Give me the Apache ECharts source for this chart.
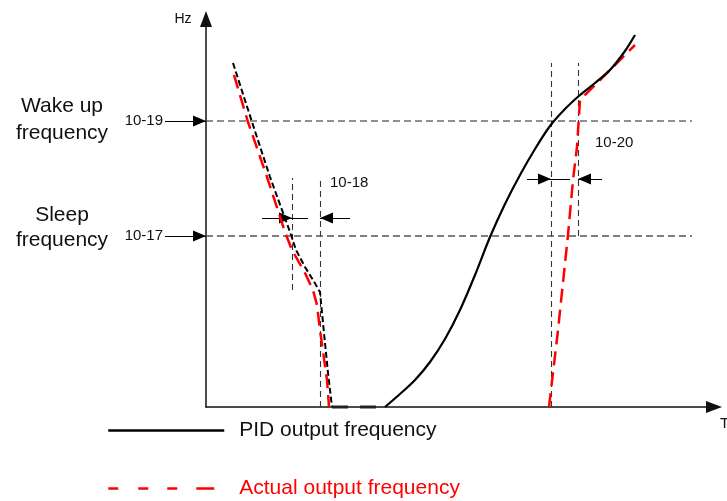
<!DOCTYPE html>
<html><head><meta charset="utf-8">
<script src="https://cdn.jsdelivr.net/npm/echarts@6/dist/echarts.min.js"></script>
<style>html,body{margin:0;padding:0;background:#fff}#c{width:727px;height:501px}</style>
</head><body><div id="c"></div>
<script>
const FONT = '"Liberation Sans", Arial, sans-serif';

// Frequency levels (Hz units of the sketch) and time extent
const wakeLevel = 286;   // 10-19 wake up frequency
const sleepLevel = 171;  // 10-17 sleep frequency
const levelEnd = 486;

// PID output frequency: falling part (dashed), floor, rising part (solid)
const pidFall = [[27,344],[46,285],[64,230],[84,175],[90,157],[99,140],[107,127],[114,115],[117,84],[122,34],[126,0]];
const pidFloor = [[126,0],[180,0]];
const pidRise = [[179,0],[194,13],[209,27],[224,45],[239,68],[254,97],[269,132],[284,170],[299,203],[314,232],[329,258],[344,281],[359,298],[374,312],[389,324],[404,337],[419,356],[429,372]];

// Actual output frequency
const actualFall = [[28,332],[42,285],[61,230],[79,175],[86,157],[99,134],[107,117],[111,102],[114,77],[121,27],[123,0]];
const actualRise = [[343,0],[352,77],[362,172],[367,227],[371,260],[374,307],[394,327],[429,362]];

// Vertical guide lines (time marks)
const guideV = [[[86,117],[86,229]], [[114,0],[114,229]], [[345,0],[345,344]], [[372,171],[372,344]]];
// Parameter arrows (tip = second point) and tails
const paramArrows = [[[-41,286],[0,286]], [[-41,171],[0,171]], [[56,189],[86,189]], [[144,189],[114,189]], [[321,228],[345,228]], [[396,228],[372,228]]];
const arrowTails = [[[86,189],[102,189]], [[345,228],[364,228]]];

// triangle whose tip sits at the symbol centre
const ARROW = 'path://M0 12 L5 24 L-5 24 Z M-12 0 M12 0';

const chart = echarts.init(document.getElementById('c'), null, {renderer:'canvas'});

function txt(text, x, y, size, align, color) {
  return {type:'text', x:x, y:y, silent:true, style:{text:text, font: size+'px '+FONT, fill: color||'#111', textAlign: align||'center', textVerticalAlign:'middle'}};
}

chart.setOption({
  animation:false,
  backgroundColor:'#fff',
  grid:{left:206, top:19, width:508, height:388, containLabel:false, outerBoundsMode:'none'},
  xAxis:{type:'value', min:0, max:508, axisLine:{show:true, onZero:false, lineStyle:{color:'#111', width:1.5}, symbol:['none','triangle'], symbolSize:[12,16]}, axisTick:{show:false}, axisLabel:{show:false}, splitLine:{show:false}},
  yAxis:{type:'value', min:0, max:388, axisLine:{show:true, onZero:false, lineStyle:{color:'#111', width:1.5}, symbol:['none','triangle'], symbolSize:[12,16]}, axisTick:{show:false}, axisLabel:{show:false}, splitLine:{show:false}},
  legend:[
    {data:['PID output frequency'], left:107, top:420, padding:0, itemWidth:116, itemHeight:22, selectedMode:false,
     itemStyle:{opacity:0, color:'transparent', borderWidth:0},
     lineStyle:{width:2.5},
     textStyle:{fontSize:21, color:'#111', fontFamily:FONT, padding:[0,0,0,10]}},
    {data:['Actual output frequency'], left:107, top:478, padding:0, itemWidth:106, itemHeight:22, selectedMode:false,
     itemStyle:{opacity:0, color:'transparent', borderWidth:0},
     lineStyle:{type:[10,20,10,19,10,19,18,0], width:2.5},
     textStyle:{fontSize:21, color:'#ff0000', fontFamily:FONT, padding:[0,0,0,20]}}
  ],
  series:[
    {type:'line', name:'wake', data:[[0,wakeLevel],[levelEnd,wakeLevel]], symbol:'none', silent:true,
     lineStyle:{color:'#222', width:1.2, type:[7,4]}},
    {type:'line', name:'sleep', data:[[0,sleepLevel],[levelEnd,sleepLevel]], symbol:'none', silent:true,
     lineStyle:{color:'#555', width:1.4, type:[7,4]}},
    {type:'lines', coordinateSystem:'cartesian2d', clip:false, silent:true, symbol:'none',
     data: guideV.map(c=>({coords:c})), lineStyle:{color:'#333', width:1.1, type:[6,4], opacity:1}},
    {type:'lines', coordinateSystem:'cartesian2d', clip:false, silent:true, symbol:['none', ARROW], symbolSize:26,
     data: paramArrows.map(c=>({coords:c})), lineStyle:{color:'#000', width:1, opacity:1}},
    {type:'lines', coordinateSystem:'cartesian2d', clip:false, silent:true, symbol:'none',
     data: arrowTails.map(c=>({coords:c})), lineStyle:{color:'#000', width:1, opacity:1}},
    {type:'line', name:'pidFall', data:pidFall, symbol:'none', silent:true,
     lineStyle:{color:'#000', width:2, type:[6,3]}},
    {type:'line', name:'pidFloor', data:pidFloor, symbol:'none', silent:true, clip:false,
     lineStyle:{color:'#222', width:3, type:[16,12]}},
    {type:'line', name:'Actual output frequency', data:actualFall, symbol:'none', silent:true, clip:false, color:'#ff0000',
     lineStyle:{color:'#ff0000', width:2.5, type:[14,7]}},
    {type:'line', name:'Actual output frequency', data:actualRise, symbol:'none', silent:true, clip:false, color:'#ff0000',
     lineStyle:{color:'#ff0000', width:2.5, type:[14,7]}},
    {type:'line', name:'PID output frequency', data:pidRise, symbol:'none', smooth:0.3, silent:true, clip:false, color:'#000',
     lineStyle:{color:'#000', width:2.2}}
  ],
  graphic:[
    txt('Hz', 183, 19, 14),
    txt('Wake up', 62, 106, 21),
    txt('frequency', 62, 133, 21),
    txt('Sleep', 62, 215, 21),
    txt('frequency', 62, 240, 21),
    txt('10-19', 163, 121, 15, 'right'),
    txt('10-17', 163, 236, 15, 'right'),
    txt('10-18', 330, 183, 15, 'left'),
    txt('10-20', 595, 143, 15, 'left'),
    txt('T', 720, 424, 15, 'left')
  ]
});
</script></body></html>
